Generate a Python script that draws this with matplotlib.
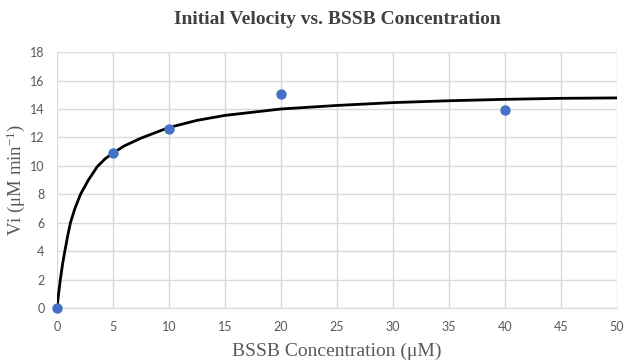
import matplotlib
matplotlib.use("Agg")
import matplotlib.pyplot as plt

plt.rcParams['mathtext.fontset'] = 'custom'
plt.rcParams['mathtext.rm'] = 'Liberation Serif'
plt.rcParams['mathtext.it'] = 'Liberation Serif:italic'

# measured points
conc = [0, 5, 10, 20, 40]
vi = [0, 10.9, 12.6, 15.05, 13.9]

# fitted curve
fit_x = [0, 0.15, 0.3, 0.5, 0.7, 0.95, 1.2, 1.6, 2.1, 2.8, 3.6, 4.3, 5, 6, 7.5, 10, 12.5, 15, 20, 25, 30, 35, 40, 45, 50]
fit_y = [0, 1.05, 2.0, 3.1, 4.0, 5.05, 6.0, 7.0, 8.0, 9.0, 9.95, 10.5, 10.9, 11.4, 11.95, 12.7, 13.2, 13.55, 14.0, 14.25, 14.45, 14.58, 14.68, 14.75, 14.78]

x_ticks = list(range(0, 51, 5))
y_ticks = list(range(0, 19, 2))

gray = '#595959'
grid = '#d9d9d9'

fig = plt.figure(figsize=(6.29, 3.62), dpi=100)
ax = fig.add_axes([0.0906, 0.149, 0.890, 0.707])

ax.plot(fit_x, fit_y, color='black', lw=2, zorder=3)
ax.plot(conc, vi, 'o', color='#4472C4', ms=6.5, zorder=4, clip_on=False)

ax.set_xlim(0, 50)
ax.set_ylim(0, 18)
ax.set_xticks(x_ticks)
ax.set_yticks(y_ticks)
ax.grid(True, color=grid, lw=1)
ax.set_axisbelow(True)
for s in ['top', 'right', 'left']:
    ax.spines[s].set_visible(False)
ax.spines['bottom'].set_color(grid)
ax.tick_params(length=0, colors=gray, labelsize=9, pad=9)
for lab in ax.get_xticklabels() + ax.get_yticklabels():
    lab.set_family('Lato')

ax.set_title('Initial Velocity vs. BSSB Concentration', family='Liberation Serif',
             fontweight='bold', fontsize=14, color='#404040', pad=20)
ax.set_xlabel('BSSB Concentration (μM)', family='Liberation Serif', fontsize=14,
              color=gray, labelpad=7)
ax.set_ylabel('Vi (μM min$^{\\mathrm{-1}}$)', family='Liberation Serif', fontsize=13.5,
              color=gray, labelpad=2)

fig.savefig('out.png', dpi=100)
